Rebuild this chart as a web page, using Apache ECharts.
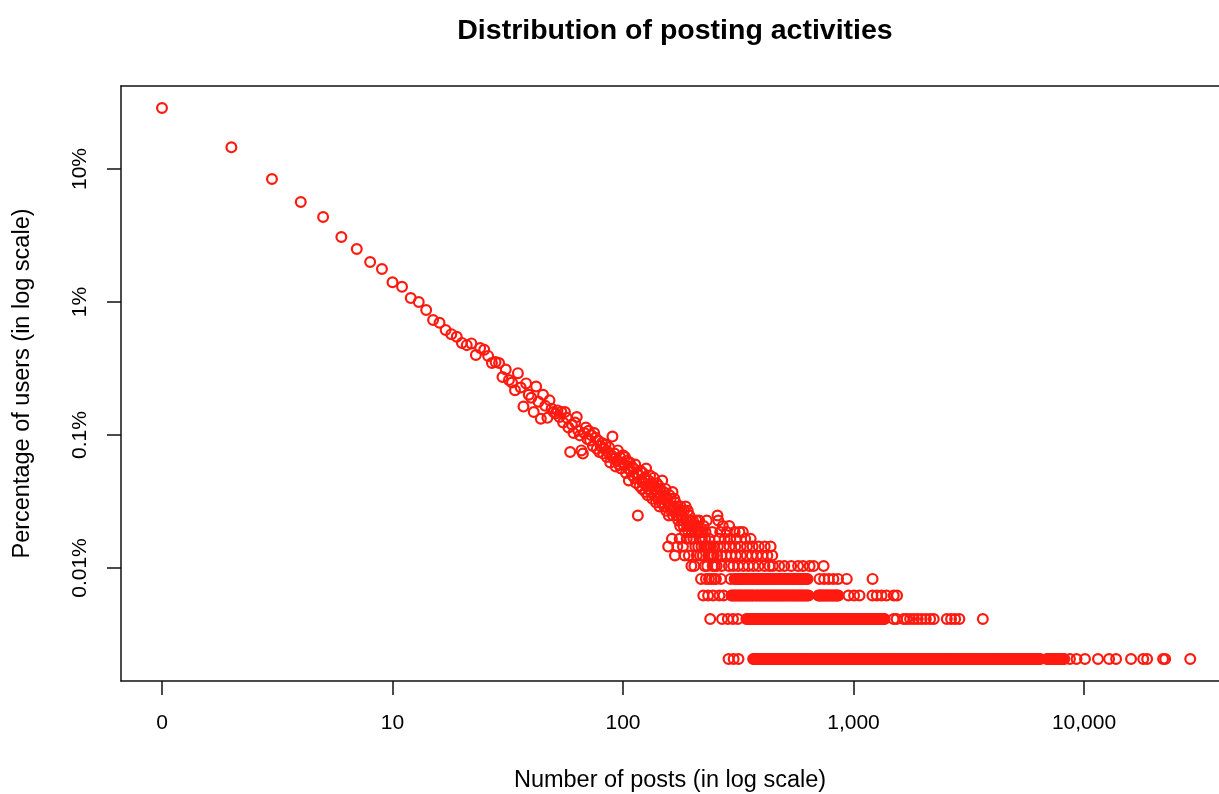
<!DOCTYPE html>
<html>
<head>
<meta charset="utf-8">
<title>Distribution of posting activities</title>
<script src="https://cdn.jsdelivr.net/npm/echarts@6/dist/echarts.min.js"></script>
<style>
  html, body { margin: 0; padding: 0; background: #fff; }
  #chart { width: 1219px; height: 794px; }
</style>
</head>
<body>
<div id="chart"></div>
<script>
const TOTAL_USERS = 48300;

// users having 1..250 posts (index + 1 = number of posts on the axis)
const cloudUsers = [
  13910, 7030, 4060, 2730, 2105, 1488, 1208, 966, 855, 681,
  628, 517, 483, 421, 354, 337, 297, 277, 265, 238,
  229, 236, 193, 218, 211, 190, 168, 171, 168, 132,
  150, 125, 120, 105, 141, 110, 79, 118, 97, 92,
  72, 112, 86, 64, 97, 80, 65, 88, 76, 72,
  70, 74, 66, 72, 60, 72, 65, 55, 36, 58,
  50, 60, 66, 52, 48, 37, 35, 50, 55, 45,
  52, 44, 48, 40, 50, 46, 38, 44, 36, 40,
  42, 35, 38, 41, 33, 36, 39, 30, 34, 47,
  32, 35, 28, 31, 37, 29, 33, 27, 30, 34,
  29, 33, 25, 31, 27, 22, 30, 26, 28, 24,
  27, 23, 29, 21, 25, 12, 24, 20, 26, 22,
  19, 25, 21, 23, 18, 27, 20, 17, 22, 19,
  24, 18, 21, 16, 20, 23, 17, 19, 15, 21,
  18, 16, 20, 14, 19, 17, 15, 22, 16, 18,
  14, 17, 19, 13, 16, 15, 7, 12, 17, 14,
  16, 13, 8, 18, 12, 14, 16, 6, 15, 13,
  12, 7, 14, 11, 13, 8, 10, 14, 12, 13,
  11, 7, 10, 13, 6, 9, 14, 11, 8, 10,
  13, 9, 6, 12, 10, 8, 11, 5, 9, 10,
  11, 8, 10, 5, 9, 7, 10, 11, 6, 9,
  10, 7, 9, 11, 8, 6, 9, 4, 7, 8,
  9, 6, 3, 10, 7, 5, 8, 9, 4, 7,
  11, 5, 7, 3, 6, 4, 8, 7, 2, 6,
  7, 4, 6, 9, 5, 3, 7, 6, 4, 5
];

// post counts above 250 held by exactly 1, 2, 3, 4, 5 users
const posts1 = [
  287, 302, 317,
  367, 372, 377, 383, 389, 395, 401, 406, 412, 418, 425, 431, 437, 444, 451, 457,
  464, 471, 478, 485, 493, 500, 507, 515, 523, 530, 538, 546, 555, 563, 571, 579,
  588, 597, 606, 615, 624, 633, 643, 652, 662, 672, 682, 692, 703, 713, 724, 735,
  746, 757, 768, 779, 791, 803, 815, 827, 839, 852, 865, 878, 891, 904, 917, 931,
  945, 959, 973, 988, 1003, 1018, 1033, 1048, 1064, 1080, 1096, 1112, 1129, 1146,
  1163, 1180, 1198, 1216, 1234, 1252, 1271, 1290, 1309, 1328, 1348, 1368, 1389,
  1409, 1430, 1451, 1473, 1495, 1517, 1540, 1563, 1586, 1610, 1634, 1658, 1683,
  1708, 1733, 1759, 1785, 1812, 1839, 1866, 1894, 1922, 1951, 1980, 2009, 2039,
  2070, 2101, 2132, 2163, 2195, 2228, 2261, 2295, 2329, 2364, 2399, 2435, 2471,
  2508, 2545, 2583, 2622, 2661, 2701, 2741, 2782, 2823, 2865, 2908, 2951, 2995,
  3040, 3085, 3131, 3177, 3225, 3273, 3322, 3371, 3421, 3472, 3524, 3576, 3629,
  3683, 3738, 3794, 3851, 3908, 3966, 4025, 4085, 4146, 4208, 4270, 4334, 4398,
  4464, 4530, 4598, 4666, 4736, 4806, 4878, 4950, 5024, 5099, 5175, 5252, 5330,
  5409, 5490, 5572, 5655, 5739, 5825, 5911, 5999, 6088, 6179, 6271, 6364, 6459,
  6905, 7005, 7110, 7215, 7325, 7435, 7545, 7655, 7770, 7885, 8005, 8105, 8210,
  8690, 9280, 10100, 11500, 12850, 13780, 16000, 18070, 18790, 22040, 22500, 28900
];
const posts2 = [
  269, 285, 300, 315,
  343, 348, 353, 358, 364, 369, 375, 380, 386, 392, 398, 404, 410, 416, 422, 428,
  435, 441, 448, 454, 461, 468, 475, 482, 490, 497, 504, 512, 520, 527, 535, 543,
  551, 559, 568, 576, 585, 593, 602, 611, 620, 629, 639, 648, 658, 668, 678, 688,
  699, 709, 720, 730, 741, 752, 764, 775, 786, 798, 810, 822, 834, 847, 860, 872,
  885, 898, 912, 925, 939, 953, 968, 982, 997, 1012, 1027, 1042, 1057, 1073, 1089,
  1105, 1122, 1138, 1155, 1172, 1190, 1207, 1226, 1244, 1263, 1281, 1300, 1320,
  1340, 1352, 1364,
  1493, 1538, 1650, 1700, 1760, 1830, 1900, 1975, 2060, 2150, 2230, 2540, 2650,
  2760, 2880, 3640
];
const posts3 = [
  262, 273,
  295, 299, 304, 308, 313, 318, 322, 327, 332, 337, 342, 347, 352, 357, 363, 366,
  374, 379, 385, 391, 397, 403, 409, 415, 421, 427, 434, 440, 447, 453, 460, 467,
  474, 481, 488, 495, 503, 510, 518, 526, 534, 542, 550, 558, 567, 575, 584, 592,
  601, 610, 619, 628, 638,
  704, 711, 719, 728, 738, 747, 757, 767, 777, 787, 798, 809, 820, 831, 842, 851,
  860, 951, 1006, 1062, 1208, 1262, 1324, 1391, 1495, 1545
];
const posts4 = [
  253, 266, 293,
  305, 309, 314, 319, 323, 328, 333, 338, 343, 349, 354, 359, 365, 371, 376, 382,
  388, 394, 400, 405, 411, 417, 423, 429, 436, 442, 449, 455, 462, 469, 476, 483,
  491, 498, 505, 513, 521, 528, 536, 544, 552, 561, 569, 578, 587, 596, 605, 614,
  623, 632,
  712, 746, 781, 818, 857, 935, 1210
];
const posts5 = [
  255, 268, 288, 301, 316, 333, 350, 368, 387, 411, 432, 447, 476, 501, 537,
  575, 604, 645, 671, 742
];
// the few post counts above 250 held by 6 or more users
const sparsePosts = [
  256, 267, 280, 294, 309, 325, 344, 362, 381, 402, 423, 444,
  258, 274, 290, 307, 324, 345, 365, 388, 412, 437,
  261, 276, 292, 311, 339, 358,
  264, 282, 305, 320, 331,
  271, 289, 259, 257
];
const sparseUsers = [
  6, 6, 6, 6, 6, 6, 6, 6, 6, 6, 6, 6,
  7, 7, 7, 7, 7, 7, 7, 7, 7, 7,
  8, 8, 8, 8, 8, 8,
  9, 9, 9, 9, 9,
  10, 10, 11, 12
];

const xTickValues = [1, 10, 100, 1000, 10000];
const xTickLabels = ['0', '10', '100', '1,000', '10,000'];
const yTickValues = [0.01, 0.1, 1, 10];
const yTickLabels = ['0.01%', '0.1%', '1%', '10%'];

const FONT = '"Liberation Sans", Arial, Helvetica, sans-serif';
const RED = '#ff1a10';
const INK = '#111';
const X_MIN = 0.664;
const X_MAX = 38520;

const toPct = (users) => users / TOTAL_USERS * 100;

const points = [];
cloudUsers.forEach((u, i) => points.push([i + 1, toPct(u)]));
[posts1, posts2, posts3, posts4, posts5].forEach((list, k) => {
  list.forEach((p) => points.push([p, toPct(k + 1)]));
});
sparsePosts.forEach((p, i) => points.push([p, toPct(sparseUsers[i])]));

function tickLabel(values, labels) {
  return (v) => {
    const idx = values.findIndex((t) => Math.abs(Math.log10(t) - Math.log10(v)) < 1e-6);
    return idx < 0 ? '' : labels[idx];
  };
}

const boxLine = { show: true, lineStyle: { color: INK, width: 1.5 } };

const chart = echarts.init(document.getElementById('chart'), null, { renderer: 'canvas' });
chart.setOption({
  animation: false,
  backgroundColor: '#fff',
  textStyle: { fontFamily: FONT },
  title: {
    text: 'Distribution of posting activities',
    left: 670,
    top: 12,
    textAlign: 'center',
    textStyle: { fontFamily: FONT, fontSize: 28.5, fontWeight: 'bold', color: '#000' },
  },
  grid: {
    left: 121,
    top: 86,
    bottom: 113,
    right: 0,
    outerBoundsMode: 'none',
    containLabel: false,
  },
  xAxis: [{
    type: 'log',
    logBase: 10,
    min: X_MIN,
    max: X_MAX,
    position: 'bottom',
    name: 'Number of posts (in log scale)',
    nameLocation: 'middle',
    nameGap: 88,
    nameTextStyle: { fontFamily: FONT, fontSize: 23.5, color: '#000' },
    axisLine: boxLine,
    splitLine: { show: false },
    axisTick: {
      show: true,
      length: 14,
      customValues: xTickValues,
      lineStyle: { color: INK, width: 1.5 },
    },
    axisLabel: {
      customValues: xTickValues,
      formatter: tickLabel(xTickValues, xTickLabels),
      fontFamily: FONT,
      fontSize: 21,
      color: '#000',
      margin: 32,
    },
  }, {
    // top edge of the plot box
    type: 'log',
    logBase: 10,
    min: X_MIN,
    max: X_MAX,
    position: 'top',
    axisLine: boxLine,
    axisTick: { show: false },
    axisLabel: { show: false },
    splitLine: { show: false },
  }],
  yAxis: {
    type: 'log',
    logBase: 10,
    min: 0.001414,
    max: 42.1,
    name: 'Percentage of users (in log scale)',
    nameLocation: 'middle',
    nameGap: 86,
    nameRotate: 90,
    nameTextStyle: { fontFamily: FONT, fontSize: 23.5, color: '#000' },
    axisLine: boxLine,
    splitLine: { show: false },
    axisTick: {
      show: true,
      length: 14,
      customValues: yTickValues,
      lineStyle: { color: INK, width: 1.5 },
    },
    axisLabel: {
      customValues: yTickValues,
      formatter: tickLabel(yTickValues, yTickLabels),
      rotate: 90,
      fontFamily: FONT,
      fontSize: 21,
      color: '#000',
      margin: 30,
    },
  },
  series: [{
    type: 'scatter',
    xAxisIndex: 0,
    data: points,
    symbol: 'circle',
    symbolSize: 9.8,
    itemStyle: { color: 'rgba(0,0,0,0)', borderColor: RED, borderWidth: 2.2, opacity: 1 },
    emphasis: { disabled: true },
  }],
});
</script>
</body>
</html>
